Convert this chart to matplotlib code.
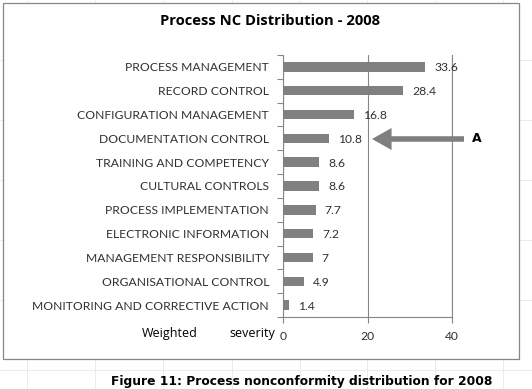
import matplotlib.pyplot as plt
from matplotlib.patches import Rectangle
from matplotlib.lines import Line2D

categories = ['PROCESS MANAGEMENT', 'RECORD CONTROL', 'CONFIGURATION MANAGEMENT',
              'DOCUMENTATION CONTROL', 'TRAINING AND COMPETENCY', 'CULTURAL CONTROLS',
              'PROCESS IMPLEMENTATION', 'ELECTRONIC INFORMATION', 'MANAGEMENT RESPONSIBILITY',
              'ORGANISATIONAL CONTROL', 'MONITORING AND CORRECTIVE ACTION']
values = [33.6, 28.4, 16.8, 10.8, 8.6, 8.6, 7.7, 7.2, 7, 4.9, 1.4]
value_labels = ['33.6', '28.4', '16.8', '10.8', '8.6', '8.6', '7.7', '7.2', '7', '4.9', '1.4']
xticks = [0, 20, 40]

W, H = 532, 389
fig = plt.figure(figsize=(W / 100, H / 100), dpi=100)
fig.patch.set_facecolor('white')

# faint spreadsheet grid behind the chart
for gx in [27, 95, 163, 232, 300, 367, 435, 503]:
    fig.add_artist(Line2D([gx / W, gx / W], [0, 1], color='#e8e8e8', lw=0.6, zorder=-3))
for gy in [60, 120, 180, 240, 300, 370]:
    fig.add_artist(Line2D([0, 1], [1 - gy / H, 1 - gy / H], color='#e8e8e8', lw=0.6, zorder=-3))

# chart border
fig.add_artist(Rectangle((3 / W, 1 - 359 / H), 516 / W, 356 / H, transform=fig.transFigure,
                         facecolor='white', edgecolor='#868686', lw=0.9, zorder=-2))

ax = fig.add_axes([283 / W, 1 - 317 / H, (452 - 283) / W, (317 - 55) / H])
ax.set_facecolor('none')

n = len(categories)
ypos = list(range(n))[::-1]
ax.barh(ypos, values, height=0.4, color='#808080', zorder=3)
ax.set_xlim(0, 40)
ax.set_ylim(-0.5, n - 0.5)

ax.set_yticks(ypos)
ax.set_yticklabels(categories, fontsize=8.7, color='#303030', family='Lato')
ax.tick_params(axis='y', length=0, pad=10)
# category separators as small outward ticks
ax.set_yticks([i - 0.5 for i in range(n + 1)], minor=True)
ax.tick_params(axis='y', which='minor', length=4, color='#868686', width=0.8)

ax.set_xticks(xticks)
ax.set_xticklabels([str(t) for t in xticks], fontsize=8.7, color='#303030', family='Lato')
ax.tick_params(axis='x', length=4, color='#868686', width=0.8, pad=6)

ax.grid(axis='x', color='#868686', lw=0.8, zorder=0)
ax.spines['top'].set_visible(False)
for s in ['left', 'bottom', 'right']:
    ax.spines[s].set_color('#868686')
    ax.spines[s].set_linewidth(0.8)

for y, v, lab in zip(ypos, values, value_labels):
    ax.annotate(lab, (v, y), xytext=(9, -1), textcoords='offset pixels',
                va='center', ha='left', fontsize=8.7, color='#303030', family='Lato')

fig.text(270 / W, 1 - 21 / H, 'Process NC Distribution - 2008', ha='center', va='center',
         fontsize=10.6, fontweight='bold', color='black', family='Open Sans')

fig.text(170 / W, 1 - 333 / H, 'Weighted', ha='center', va='center',
         fontsize=9, color='black', family='Open Sans')
fig.text(252 / W, 1 - 333 / H, 'severity', ha='center', va='center',
         fontsize=9, color='black', family='Open Sans')

# arrow pointing at documentation control
ax.annotate('', xy=(372, H - 139), xytext=(464, H - 139), xycoords='figure pixels',
            annotation_clip=False,
            arrowprops=dict(arrowstyle='-|>,head_length=0.8,head_width=0.45', lw=4,
                            color='#7f7f7f', mutation_scale=10, shrinkA=0, shrinkB=0,
                            joinstyle='miter', capstyle='butt'))
fig.text(477 / W, 1 - 139 / H, 'A', ha='center', va='center', fontsize=9,
         fontweight='bold', color='black', family='DejaVu Sans')

fig.text(302 / W, 1 - 382 / H, 'Figure 11: Process nonconformity distribution for 2008',
         ha='center', va='center', fontsize=8.8, fontweight='bold', color='black',
         family='DejaVu Sans')

fig.savefig('out.png', dpi=100)
